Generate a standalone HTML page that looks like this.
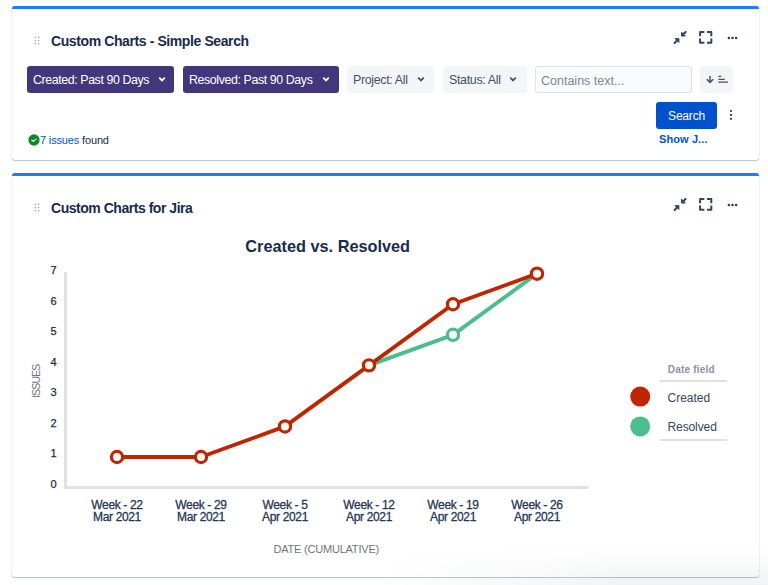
<!DOCTYPE html>
<html><head><meta charset="utf-8">
<style>
*{box-sizing:border-box;margin:0;padding:0}
html,body{width:768px;height:585px;overflow:hidden;background:#fff;font-family:"Liberation Sans",sans-serif;color:#172B4D}
.abs{position:absolute}
.card{position:absolute;left:12px;width:747px;background:#fff;border-radius:3px;border-top:3px solid #1D7DFF;box-shadow:0 1px 1px rgba(9,30,66,0.25),0 0 1px rgba(9,30,66,0.31)}
.title{position:absolute;left:39px;font-weight:bold;font-size:14px;letter-spacing:-0.4px;color:#172B4D;white-space:nowrap;line-height:16px}
.drag{position:absolute;left:22px;width:6px;height:9px}
.btn{position:absolute;top:57px;height:27px;border-radius:3px;font-size:12.4px;white-space:nowrap;line-height:29px}
.purple{background:#42377C;color:#fff}
.gray{background:#F4F5F7;color:#42526E}
.chev{position:absolute;top:0;width:8px;height:27px}
.t{position:absolute;white-space:nowrap}
</style></head>
<body>
<!-- Card 1 -->
<div class="card" style="top:6px;height:154px"></div>
<div class="abs" style="left:12px;top:9px">
  <svg class="drag" style="top:27px" viewBox="0 0 6 9"><g fill="#A0A7B8"><circle cx="1.3" cy="1.3" r="0.85"/><circle cx="4.6" cy="1.3" r="0.85"/><circle cx="1.3" cy="4.5" r="0.85"/><circle cx="4.6" cy="4.5" r="0.85"/><circle cx="1.3" cy="7.6" r="0.85"/><circle cx="4.6" cy="7.6" r="0.85"/></g></svg>
  <div class="title" style="top:23.5px">Custom Charts - Simple Search</div>
  <!-- header icons -->
  <svg class="abs" style="left:658px;top:19px" width="20" height="20" viewBox="0 0 20 20"><g fill="#344563" stroke="#344563" stroke-linejoin="round"><path d="M4.6 14.9L7.6 11.9" stroke-width="2.1" stroke-linecap="round"/><path d="M8.9 10.6H5.1L8.9 14.4Z" stroke-width="1"/><path d="M15.6 3.9L12.9 6.6" stroke-width="2.1" stroke-linecap="round"/><path d="M11.5 8V4.2L15.3 8Z" stroke-width="1"/></g></svg>
  <svg class="abs" style="left:683px;top:18px" width="22" height="22" viewBox="0 0 22 22" fill="none" stroke="#344563" stroke-width="2" stroke-linejoin="round"><path d="M5.1 9.3V4.9H9.4M12 4.9H16.3V9.3M16.3 11.4V15.7H12M9.4 15.7H5.1V11.4"/></svg>
  <svg class="abs" style="left:714px;top:25px" width="14" height="8" viewBox="0 0 14 8" fill="#253858"><circle cx="2.9" cy="3.9" r="1.25"/><circle cx="6.5" cy="3.9" r="1.25"/><circle cx="10.1" cy="3.9" r="1.25"/></svg>

  <div class="btn purple" style="left:15px;width:147px;padding-left:6px;letter-spacing:-0.41px">Created: Past 90 Days
    <svg class="chev" style="left:131px" viewBox="0 0 8 27"><path d="M1.2 11.7L4 14.4L6.8 11.7" fill="none" stroke="#fff" stroke-width="1.8"/></svg></div>
  <div class="btn purple" style="left:171px;width:156px;padding-left:6px;letter-spacing:-0.40px">Resolved: Past 90 Days
    <svg class="chev" style="left:139px" viewBox="0 0 8 27"><path d="M1.2 11.7L4 14.4L6.8 11.7" fill="none" stroke="#fff" stroke-width="1.8"/></svg></div>
  <div class="btn gray" style="left:335px;width:87px;padding-left:6px;letter-spacing:-0.33px">Project: All
    <svg class="chev" style="left:70px" viewBox="0 0 8 27"><path d="M1.2 11.7L4 14.4L6.8 11.7" fill="none" stroke="#42526E" stroke-width="1.8"/></svg></div>
  <div class="btn gray" style="left:431px;width:84px;padding-left:6px;letter-spacing:-0.31px">Status: All
    <svg class="chev" style="left:66px" viewBox="0 0 8 27"><path d="M1.2 11.7L4 14.4L6.8 11.7" fill="none" stroke="#42526E" stroke-width="1.8"/></svg></div>
  <div class="btn" style="left:523px;width:157px;background:#FAFBFC;border:1px solid #DFE1E6;color:#7A869A;padding-left:5px;line-height:28.5px;font-size:12.5px">Contains text...</div>
  <div class="btn gray" style="left:688px;width:33px">
    <svg class="abs" style="left:5px;top:8px" width="24" height="12" viewBox="0 0 24 12" fill="none" stroke="#42526E"><path d="M5 1.9V8.2" stroke-width="1.5"/><path d="M1.8 5.3L5 8.4L8.2 5.3" stroke-width="1.6"/><path d="M13.4 2.4H16.3M13.4 5.4H19.8M13.4 8.1H23" stroke-width="1.4"/></svg>
  </div>
  <div class="btn" style="left:644px;top:92.5px;width:61px;height:27.5px;background:#0052CC;color:#fff;text-align:center;font-size:12px;letter-spacing:-0.2px">Search</div>
  <svg class="abs" style="left:716.5px;top:100px" width="4" height="12" viewBox="0 0 4 12" fill="#253858"><circle cx="2" cy="2" r="1.1"/><circle cx="2" cy="5.9" r="1.1"/><circle cx="2" cy="9.8" r="1.1"/></svg>
  <div class="t" style="left:647px;top:124px;font-weight:bold;font-size:11px;color:#0052CC;letter-spacing:0.1px">Show J...</div>

  <svg class="abs" style="left:15.6px;top:125.1px" width="12" height="12" viewBox="0 0 12 12"><circle cx="6" cy="6" r="5.65" fill="#0A8A25"/><path d="M3.9 6.4L5.3 7.3L8.1 5.1" fill="none" stroke="#fff" stroke-width="1.2" stroke-linecap="round" stroke-linejoin="round"/></svg>
  <div class="t" style="left:28px;top:124.5px;font-size:11px;letter-spacing:-0.15px;line-height:13px"><span style="color:#0052CC">7 issues</span> found</div>
</div>

<!-- Card 2 -->
<div class="card" style="top:173px;height:404px"></div>
<div class="abs" style="left:12px;top:176px">
  <svg class="drag" style="top:27px" viewBox="0 0 6 9"><g fill="#A0A7B8"><circle cx="1.3" cy="1.3" r="0.85"/><circle cx="4.6" cy="1.3" r="0.85"/><circle cx="1.3" cy="4.5" r="0.85"/><circle cx="4.6" cy="4.5" r="0.85"/><circle cx="1.3" cy="7.6" r="0.85"/><circle cx="4.6" cy="7.6" r="0.85"/></g></svg>
  <div class="title" style="top:23.5px;letter-spacing:-0.47px">Custom Charts for Jira</div>
  <svg class="abs" style="left:658px;top:19px" width="20" height="20" viewBox="0 0 20 20"><g fill="#344563" stroke="#344563" stroke-linejoin="round"><path d="M4.6 14.9L7.6 11.9" stroke-width="2.1" stroke-linecap="round"/><path d="M8.9 10.6H5.1L8.9 14.4Z" stroke-width="1"/><path d="M15.6 3.9L12.9 6.6" stroke-width="2.1" stroke-linecap="round"/><path d="M11.5 8V4.2L15.3 8Z" stroke-width="1"/></g></svg>
  <svg class="abs" style="left:683px;top:18px" width="22" height="22" viewBox="0 0 22 22" fill="none" stroke="#344563" stroke-width="2" stroke-linejoin="round"><path d="M5.1 9.3V4.9H9.4M12 4.9H16.3V9.3M16.3 11.4V15.7H12M9.4 15.7H5.1V11.4"/></svg>
  <svg class="abs" style="left:714px;top:25px" width="14" height="8" viewBox="0 0 14 8" fill="#253858"><circle cx="2.9" cy="3.9" r="1.25"/><circle cx="6.5" cy="3.9" r="1.25"/><circle cx="10.1" cy="3.9" r="1.25"/></svg>
</div>

<!-- Chart (page coordinates) -->
<svg class="abs" style="left:0;top:0" width="768" height="585" viewBox="0 0 768 585">
  <text x="327.7" y="252.3" text-anchor="middle" font-family="Liberation Sans" font-weight="bold" font-size="16.3" fill="#172B4D">Created vs. Resolved</text>
  <g font-family="Liberation Sans" font-size="11" fill="#172B4D" stroke="#172B4D" stroke-width="0.25" text-anchor="end">
    <text x="56.5" y="274.00">7</text>
    <text x="56.5" y="304.55">6</text>
    <text x="56.5" y="335.10">5</text>
    <text x="56.5" y="365.65">4</text>
    <text x="56.5" y="396.20">3</text>
    <text x="56.5" y="426.75">2</text>
    <text x="56.5" y="457.30">1</text>
    <text x="56.5" y="487.85">0</text>
  </g>
  <text transform="translate(39.7,381.2) rotate(-90)" text-anchor="middle" font-family="Liberation Sans" font-size="10.5" fill="#707580" letter-spacing="-0.9">ISSUES</text>
  <path d="M65.5 272V487.5H588.5" fill="none" stroke="#DFE1E6" stroke-width="3"/>
  <g font-family="Liberation Sans" font-size="12" fill="#253858" stroke="#253858" stroke-width="0.3" text-anchor="middle" letter-spacing="-0.35">
    <text x="117" y="508.5">Week - 22</text><text x="117" y="521">Mar 2021</text>
    <text x="201" y="508.5">Week - 29</text><text x="201" y="521">Mar 2021</text>
    <text x="285" y="508.5">Week - 5</text><text x="285" y="521">Apr 2021</text>
    <text x="369" y="508.5">Week - 12</text><text x="369" y="521">Apr 2021</text>
    <text x="453" y="508.5">Week - 19</text><text x="453" y="521">Apr 2021</text>
    <text x="537" y="508.5">Week - 26</text><text x="537" y="521">Apr 2021</text>
  </g>
  <text x="326.2" y="553.1" text-anchor="middle" font-family="Liberation Sans" font-size="11" fill="#6E7580" letter-spacing="-0.2">DATE (CUMULATIVE)</text>
  <!-- lines -->
  <polyline points="369,365.35 453,334.80 537,273.70" fill="none" stroke="#4BBE8B" stroke-width="3.9" stroke-linejoin="round"/>
  <polyline points="117,457.00 201,457.00 285,426.45 369,365.35 453,304.25 537,273.70" fill="none" stroke="#BF2600" stroke-width="3.9" stroke-linejoin="round"/>
  <g fill="#fff" stroke-width="3.2"><circle cx="453" cy="334.80" r="5.6" stroke="#4BBE8B"/><circle cx="117" cy="457.00" r="5.6" stroke="#BF2600"/><circle cx="201" cy="457.00" r="5.6" stroke="#BF2600"/><circle cx="285" cy="426.45" r="5.6" stroke="#BF2600"/><circle cx="369" cy="365.35" r="5.6" stroke="#BF2600"/><circle cx="453" cy="304.25" r="5.6" stroke="#BF2600"/><circle cx="537" cy="273.70" r="5.6" stroke="#BF2600"/>
    </g>
  <!-- legend -->
  <text x="667.8" y="372.6" font-family="Liberation Sans" font-weight="bold" font-size="10" fill="#8993A4" letter-spacing="0.2">Date field</text>
  <path d="M659.5 381H727M659.5 440H727" stroke="#DFE1E6" stroke-width="2"/>
  <circle cx="640.2" cy="396.6" r="10" fill="#BF2600"/>
  <circle cx="640.2" cy="426.4" r="10" fill="#4BBE8B"/>
  <text x="667.5" y="401.7" font-family="Liberation Sans" font-size="12" fill="#344563">Created</text>
  <text x="667.5" y="431.4" font-family="Liberation Sans" font-size="12" fill="#344563" letter-spacing="-0.1">Resolved</text>
</svg>
<div class="abs" style="left:0;top:548px;width:768px;height:37px;background:linear-gradient(to bottom,rgba(30,40,60,0) 0%,rgba(30,40,60,0.06) 100%);-webkit-mask-image:linear-gradient(to right,transparent 380px,#000 620px)"></div>
</body></html>
